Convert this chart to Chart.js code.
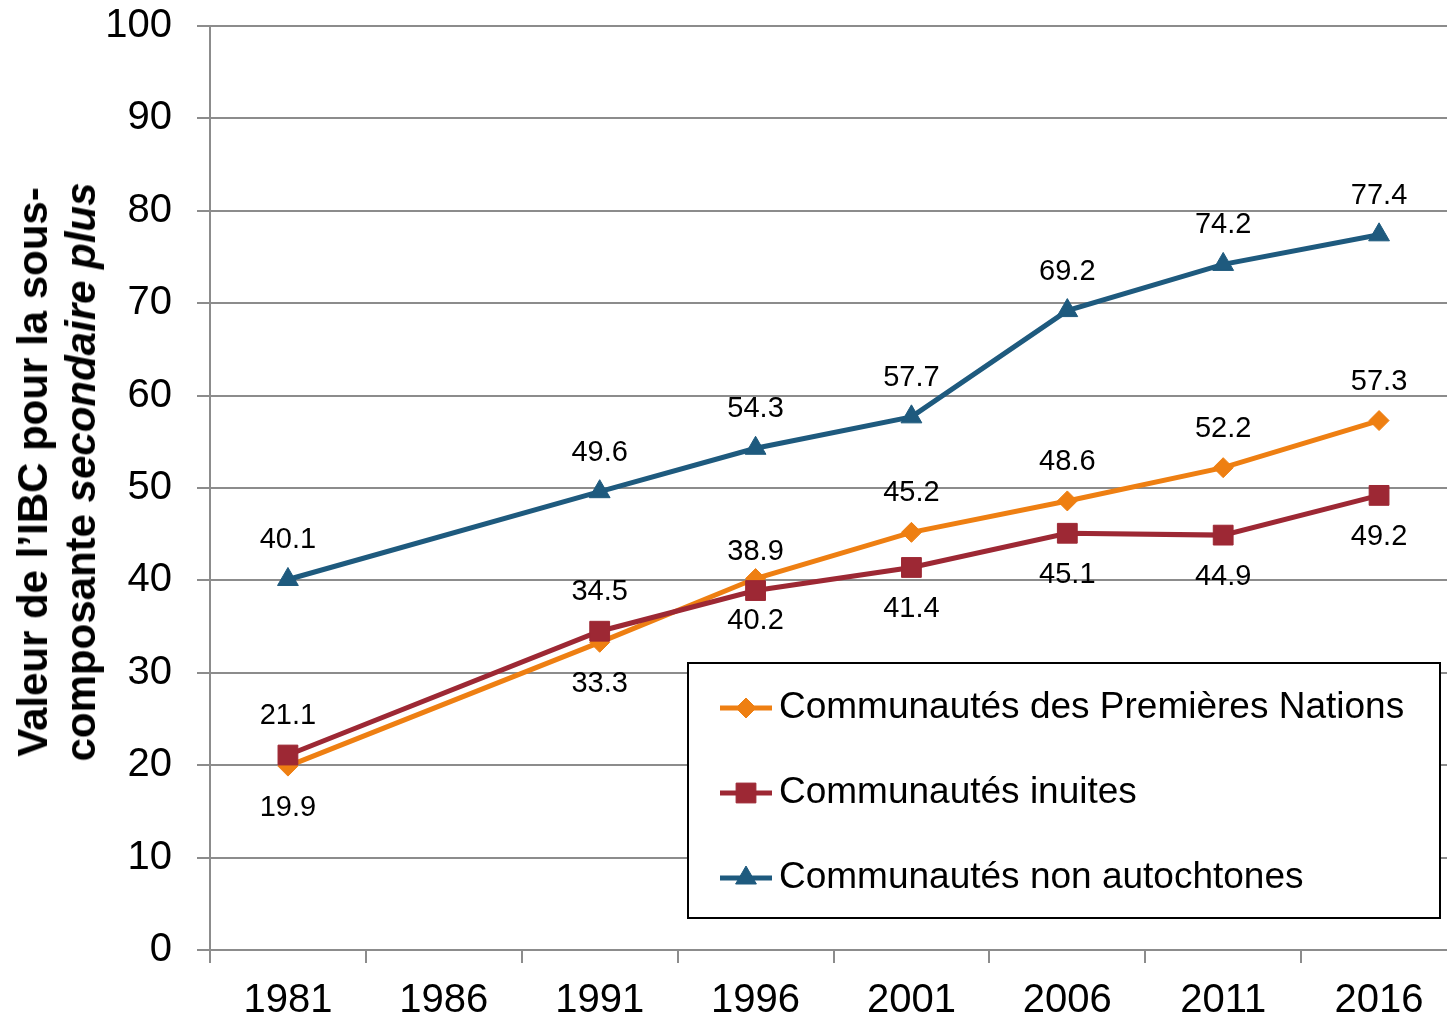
<!DOCTYPE html>
<html lang="fr">
<head>
<meta charset="utf-8">
<title>IBC secondaire plus</title>
<script src="https://cdn.jsdelivr.net/npm/chart.js@4/dist/chart.umd.min.js"></script>
<style>
  html, body { margin: 0; padding: 0; background: #fff; overflow: hidden; }
  #wrap { position: relative; width: 1447px; height: 1020px; overflow: hidden; }
  #graf { position: absolute; left: 0; top: -23px; }
  #ytitle {
    position: absolute; left: 57px; top: 472px;
    transform: translate(-50%, -50%) rotate(-90deg);
    white-space: nowrap; text-align: center;
    font: bold 42px 'Liberation Sans', Arial, sans-serif;
    line-height: 48px; color: #000;
  }
</style>
</head>
<body>
<div id="wrap">
  <canvas id="graf" width="1472" height="1043"></canvas>
  <div id="ytitle">Valeur de l’IBC pour la sous-<br>composante <i>secondaire plus</i></div>
</div>
<script>
// Données
const annees = ['1981', '1986', '1991', '1996', '2001', '2006', '2011', '2016'];
const premieresNations = [19.9, null, 33.3, 40.2, 45.2, 48.6, 52.2, 57.3];
const inuites = [21.1, null, 34.5, 38.9, 41.4, 45.1, 44.9, 49.2];
const nonAutochtones = [40.1, null, 49.6, 54.3, 57.7, 69.2, 74.2, 77.4];
const noms = ['Communautés des Premières Nations', 'Communautés inuites', 'Communautés non autochtones'];

// où placer l'étiquette de chaque point (au-dessus / en dessous)
const posPN = ['bas', null, 'bas', 'bas', 'haut', 'haut', 'haut', 'haut'];
const posInuit = ['haut', null, 'haut', 'haut', 'bas', 'bas', 'bas', 'bas'];
const posNA = ['haut', null, 'haut', 'haut', 'haut', 'haut', 'haut', 'haut'];

const ORANGE = '#ee7f12';
const ROUGE = '#9d2834';
const BLEU = '#1e5a7e';
const GRIS = '#8c8c8c';
const POLICE = "'Liberation Sans', Arial, sans-serif";
const DECALAGE = 23; // le canevas est remonté de 23 px

// Étiquettes de valeurs
const etiquettes = {
  id: 'etiquettes',
  afterDatasetsDraw(chart) {
    const ctx = chart.ctx;
    ctx.save();
    ctx.font = '29px ' + POLICE;
    ctx.fillStyle = '#000';
    ctx.textAlign = 'center';
    ctx.textBaseline = 'middle';
    chart.data.datasets.forEach((ds, i) => {
      const meta = chart.getDatasetMeta(i);
      meta.data.forEach((pt, j) => {
        const v = ds.data[j];
        if (v === null) return;
        const dy = ds.positions[j] === 'haut' ? -39 : 42;
        ctx.fillText(v.toFixed(1), pt.x, pt.y + dy);
      });
    });
    ctx.restore();
  }
};

function dessinerMarqueur(ctx, style, x, y, r, couleur) {
  ctx.fillStyle = couleur;
  ctx.strokeStyle = couleur;
  ctx.lineWidth = 1;
  ctx.beginPath();
  if (style === 'rectRot') {
    ctx.moveTo(x, y - r); ctx.lineTo(x + r, y); ctx.lineTo(x, y + r); ctx.lineTo(x - r, y);
  } else if (style === 'rect') {
    const s = r * Math.SQRT1_2;
    ctx.rect(x - s, y - s, 2 * s, 2 * s);
  } else {
    ctx.moveTo(x, y - r);
    ctx.lineTo(x + r * Math.sin(2 * Math.PI / 3), y - r * Math.cos(2 * Math.PI / 3));
    ctx.lineTo(x + r * Math.sin(4 * Math.PI / 3), y - r * Math.cos(4 * Math.PI / 3));
  }
  ctx.closePath();
  ctx.fill();
  ctx.stroke();
}

// Légende encadrée dans la zone du graphique
const legendeBoite = {
  id: 'legendeBoite',
  afterDraw(chart) {
    const ctx = chart.ctx;
    const x0 = 688, y0 = 663 + DECALAGE, w = 752, h = 255;
    ctx.save();
    ctx.fillStyle = '#fff';
    ctx.fillRect(x0, y0, w, h);
    ctx.strokeStyle = '#000';
    ctx.lineWidth = 2;
    ctx.strokeRect(x0, y0, w, h);
    ctx.font = '37px ' + POLICE;
    ctx.textBaseline = 'middle';
    ctx.textAlign = 'left';
    chart.data.datasets.forEach((ds, i) => {
      const y = y0 + 45 + i * 85;
      ctx.strokeStyle = ds.borderColor;
      ctx.lineWidth = 5;
      ctx.beginPath();
      ctx.moveTo(x0 + 32, y);
      ctx.lineTo(x0 + 84, y);
      ctx.stroke();
      dessinerMarqueur(ctx, ds.pointStyle, x0 + 58, y, ds.pointRadius, ds.borderColor);
      ctx.fillStyle = '#000';
      ctx.fillText(ds.label, x0 + 91, y);
    });
    ctx.restore();
  }
};

new Chart(document.getElementById('graf'), {
  type: 'line',
  data: {
    labels: annees,
    datasets: [
      {
        label: noms[0], data: premieresNations, positions: posPN,
        borderColor: ORANGE, backgroundColor: ORANGE,
        pointStyle: 'rectRot', pointRadius: 10, order: 2
      },
      {
        label: noms[1], data: inuites, positions: posInuit,
        borderColor: ROUGE, backgroundColor: ROUGE,
        pointStyle: 'rect', pointRadius: 14, order: 1
      },
      {
        label: noms[2], data: nonAutochtones, positions: posNA,
        borderColor: BLEU, backgroundColor: BLEU,
        pointStyle: 'triangle', pointRadius: 12, order: 0
      }
    ]
  },
  options: {
    responsive: false,
    animation: false,
    spanGaps: true,
    layout: { padding: { top: 0, right: 4, left: 0, bottom: 0 } },
    elements: {
      line: { borderWidth: 5, tension: 0 },
      point: { borderWidth: 1, hoverRadius: 10 }
    },
    plugins: {
      legend: { display: false },
      tooltip: { enabled: false },
      title: { display: false }
    },
    scales: {
      x: {
        offset: true,
        afterFit(scale) { scale.height = 70; },
        grid: { offset: true, drawOnChartArea: false, drawTicks: true, tickLength: 13, color: GRIS, lineWidth: 2 },
        border: { color: GRIS, width: 2 },
        ticks: { color: '#000', font: { family: POLICE, size: 40 }, padding: 14, maxRotation: 0, autoSkip: false }
      },
      y: {
        min: 0, max: 100,
        afterFit(scale) { scale.width = 210; },
        grid: { color: GRIS, lineWidth: 2, tickLength: 13 },
        border: { color: GRIS, width: 2 },
        ticks: { stepSize: 10, color: '#000', font: { family: POLICE, size: 40 }, padding: 25 }
      }
    }
  },
  plugins: [etiquettes, legendeBoite]
});
</script>
</body>
</html>
